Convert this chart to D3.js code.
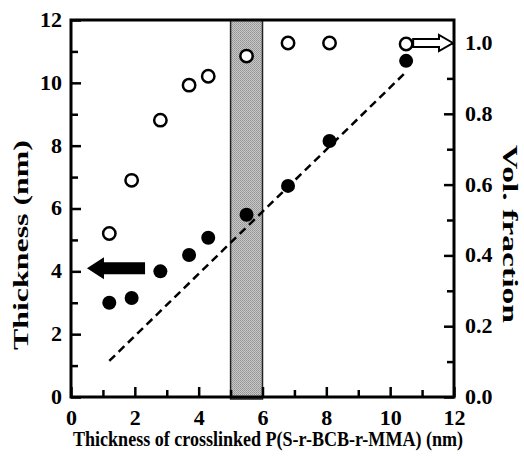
<!DOCTYPE html>
<html lang="en">
  <head>
    <meta charset="utf-8">
    <title>thickness vs crosslinked thickness</title>
    <script src="https://cdn.jsdelivr.net/npm/d3@7"></script>
    <style>
      body { margin: 0; background: #fff; }
      text { font-family: "Liberation Serif", "Times New Roman", serif; font-weight: bold; }
    </style>
  </head>
  <body>
    <div id="main"></div>
  </body>

  <script type="text/javascript">
    // data
    const xVals      = [1.2, 1.9, 2.8, 3.7, 4.3, 5.5, 6.8, 8.1, 10.5];
    const thickness  = [3.0, 3.15, 4.0, 4.52, 5.07, 5.8, 6.72, 8.15, 10.7];   // filled, left axis
    const volFrac    = [0.462, 0.612, 0.782, 0.881, 0.906, 0.963, 1.0, 1.0, 0.997]; // open, right axis
    const fitLine    = [[1.2, 1.15], [10.45, 10.3]];   // dashed guide (x, thickness)
    const band       = [5, 6];
    const xTicks     = [0, 1, 2, 3, 4, 5, 6, 7, 8, 9, 10, 11, 12];
    const yTicks     = [0, 1, 2, 3, 4, 5, 6, 7, 8, 9, 10, 11, 12];
    const y2Ticks    = [0, 0.1, 0.2, 0.3, 0.4, 0.5, 0.6, 0.7, 0.8, 0.9, 1.0];

    const W = 524, H = 458;
    const mLeft = 71, mRight = 454, mTop = 20, mBottom = 397;

    const svg = d3.select('#main').append('svg')
      .attr('width', W).attr('height', H);

    const x = d3.scaleLinear().domain([0, 12]).range([mLeft, mRight]);
    const y = d3.scaleLinear().domain([0, 12]).range([mBottom, mTop]);
    const y2 = d3.scaleLinear().domain([0, 1]).range([mBottom, 43]);

    // dithered grey for the band
    const pat = svg.append('defs').append('pattern')
      .attr('id', 'dither').attr('width', 2).attr('height', 2)
      .attr('patternUnits', 'userSpaceOnUse');
    pat.append('rect').attr('width', 2).attr('height', 2).attr('fill', '#c8c8c8');
    pat.append('rect').attr('width', 1).attr('height', 1).attr('fill', '#929292');
    pat.append('rect').attr('x', 1).attr('y', 1).attr('width', 1).attr('height', 1).attr('fill', '#a0a0a0');

    svg.append('rect')
      .attr('x', x(band[0])).attr('y', mTop)
      .attr('width', x(band[1]) - x(band[0]))
      .attr('height', mBottom - mTop + 2)
      .attr('fill', 'url(#dither)')
      .attr('stroke', '#222').attr('stroke-width', 1.5);

    // dashed guide line
    svg.append('line')
      .attr('x1', x(fitLine[0][0])).attr('y1', y(fitLine[0][1]))
      .attr('x2', x(fitLine[1][0])).attr('y2', y(fitLine[1][1]))
      .attr('stroke', '#000').attr('stroke-width', 2.5)
      .attr('stroke-dasharray', '8,5');

    // axes, ticks point inward
    const fmt = (step) => (d) => (Math.round(d * 100) % Math.round(step * 100) === 0 ? d : '');

    function styleAxis(g) {
      g.select('.domain').remove();
      g.selectAll('.tick line').attr('stroke', '#000').attr('stroke-width', 2.5);
      g.selectAll('.tick text').attr('font-size', '20px').attr('fill', '#000');
    }

    const xAxis = svg.append('g').attr('transform', `translate(0,${mBottom})`)
      .call(d3.axisBottom(x).tickValues(xTicks).tickSizeInner(-10).tickSizeOuter(0).tickPadding(14)
        .tickFormat(fmt(2)))
      .call(styleAxis);
    xAxis.selectAll('.tick').filter((d) => d % 2 !== 0).select('line').attr('y2', -7);

    const yAxis = svg.append('g').attr('transform', `translate(${mLeft},0)`)
      .call(d3.axisLeft(y).tickValues(yTicks).tickSizeInner(-10).tickSizeOuter(0).tickPadding(9)
        .tickFormat(fmt(2)))
      .call(styleAxis);
    yAxis.selectAll('.tick').filter((d) => d % 2 !== 0).select('line').attr('x2', 7);

    const y2Axis = svg.append('g').attr('transform', `translate(${mRight},0)`)
      .call(d3.axisRight(y2).tickValues(y2Ticks).tickSizeInner(-10).tickSizeOuter(0).tickPadding(11)
        .tickFormat((d) => (Math.round(d * 10) % 2 === 0 ? d3.format('.1f')(d) : '')))
      .call(styleAxis);
    y2Axis.selectAll('.tick').filter((d) => Math.round(d * 10) % 2 !== 0).select('line').attr('x2', -7);

    // drop the empty labels of the minor ticks
    svg.selectAll('.tick text').filter(function () { return this.textContent === ''; }).remove();

    // the printed digits are a little wider than the font
    svg.selectAll('.tick text').each(function () {
      const len = this.getComputedTextLength();
      if (len > 0) d3.select(this).attr('textLength', len * 1.1).attr('lengthAdjust', 'spacingAndGlyphs');
    });

    // frame
    svg.append('rect')
      .attr('x', mLeft).attr('y', mTop)
      .attr('width', mRight - mLeft).attr('height', mBottom - mTop)
      .attr('fill', 'none').attr('stroke', '#000').attr('stroke-width', 3);

    // filled points (left axis)
    svg.selectAll('circle.filled')
      .data(xVals.map((d, i) => [d, thickness[i]]))
      .enter().append('circle')
      .attr('class', 'filled')
      .attr('cx', (d) => x(d[0])).attr('cy', (d) => y(d[1]))
      .attr('r', 7).attr('fill', '#000');

    // open points (right axis)
    svg.selectAll('circle.open')
      .data(xVals.map((d, i) => [d, volFrac[i]]))
      .enter().append('circle')
      .attr('class', 'open')
      .attr('cx', (d) => x(d[0])).attr('cy', (d) => y2(d[1]))
      .attr('r', 6.2).attr('fill', '#fff')
      .attr('stroke', '#000').attr('stroke-width', 2.5);

    // filled arrow pointing to the left axis
    const ay = y(4.1), ax0 = x(0.5), ax1 = x(2.32);
    svg.append('path')
      .attr('d', `M${ax0},${ay} L${ax0 + 17},${ay - 11} L${ax0 + 17},${ay - 6} L${ax1},${ay - 6}
                  L${ax1},${ay + 6} L${ax0 + 17},${ay + 6} L${ax0 + 17},${ay + 11} Z`)
      .attr('fill', '#000');

    // open arrow pointing to the right axis
    const by = y2(1.0), bx0 = x(10.72), bx1 = mRight - 1;
    svg.append('path')
      .attr('d', `M${bx1},${by} L${bx1 - 14},${by - 8} L${bx1 - 14},${by - 4} L${bx0},${by - 4}
                  L${bx0},${by + 4} L${bx1 - 14},${by + 4} L${bx1 - 14},${by + 8} Z`)
      .attr('fill', '#fff').attr('stroke', '#000').attr('stroke-width', 2);

    // axis titles
    svg.append('text')
      .attr('transform', 'translate(268,446)')
      .attr('text-anchor', 'middle').attr('font-size', '20px')
      .attr('textLength', 390).attr('lengthAdjust', 'spacingAndGlyphs')
      .text('Thickness of crosslinked P(S-r-BCB-r-MMA) (nm)');

    svg.append('text')
      .attr('transform', 'translate(28,245) rotate(-90)')
      .attr('text-anchor', 'middle').attr('font-size', '20px')
      .attr('textLength', 210).attr('lengthAdjust', 'spacingAndGlyphs')
      .text('Thickness (nm)');

    svg.append('text')
      .attr('transform', 'translate(503,234) rotate(90)')
      .attr('text-anchor', 'middle').attr('font-size', '20px')
      .attr('textLength', 178).attr('lengthAdjust', 'spacingAndGlyphs')
      .text('Vol. fraction');
  </script>
</html>
